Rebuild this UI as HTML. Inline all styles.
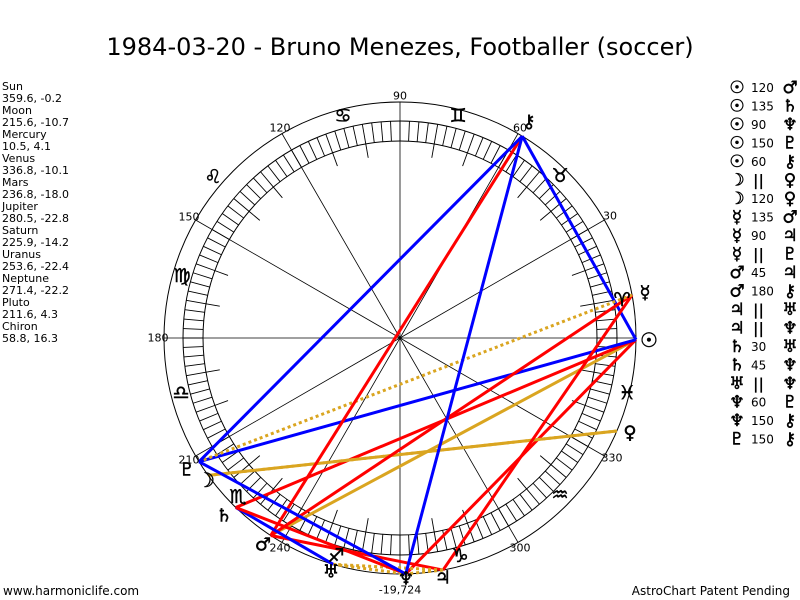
<!DOCTYPE html>
<html><head><meta charset="utf-8"><style>
html,body{margin:0;padding:0;background:#fff;}
svg{display:block;}
.t{font-family:"DejaVu Sans","Liberation Sans",sans-serif;}
</style></head><body>
<svg width="800" height="600" viewBox="0 0 800 600" xmlns="http://www.w3.org/2000/svg">
<rect width="800" height="600" fill="#fff"/>
<text class="t" x="400" y="55" font-size="24" text-anchor="middle" fill="#000">1984-03-20 - Bruno Menezes, Footballer (soccer)</text>
<g class="t" font-size="11" fill="#000">
<text x="2" y="90">Sun</text><text x="2" y="102">359.6, -0.2</text>
<text x="2" y="114">Moon</text><text x="2" y="126">215.6, -10.7</text>
<text x="2" y="138">Mercury</text><text x="2" y="150">10.5, 4.1</text>
<text x="2" y="162">Venus</text><text x="2" y="174">336.8, -10.1</text>
<text x="2" y="186">Mars</text><text x="2" y="198">236.8, -18.0</text>
<text x="2" y="210">Jupiter</text><text x="2" y="222">280.5, -22.8</text>
<text x="2" y="234">Saturn</text><text x="2" y="246">225.9, -14.2</text>
<text x="2" y="258">Uranus</text><text x="2" y="270">253.6, -22.4</text>
<text x="2" y="282">Neptune</text><text x="2" y="294">271.4, -22.2</text>
<text x="2" y="306">Pluto</text><text x="2" y="318">211.6, 4.3</text>
<text x="2" y="330">Chiron</text><text x="2" y="342">58.8, 16.3</text>
</g>
<g id="chart" stroke="#000" fill="none"></g>
<g id="lines"></g>
<g id="txt" class="t"></g>
<text class="t" x="3" y="595" font-size="12">www.harmoniclife.com</text>
<text class="t" x="790" y="595" font-size="12" text-anchor="end">AstroChart Patent Pending</text>
<script>
var NS="http://www.w3.org/2000/svg",cx=400,cy=338;
function el(p,t,a,txt){var e=document.createElementNS(NS,t);for(var k in a)e.setAttribute(k,a[k]);if(txt!=null)e.textContent=txt;p.appendChild(e);return e;}
function pt(a,r){var d=a*Math.PI/180;return [cx+r*Math.cos(d),cy-r*Math.sin(d)];}
var C=document.getElementById('chart');
el(C,'circle',{cx:cx,cy:cy,r:236,'stroke-width':1});
el(C,'circle',{cx:cx,cy:cy,r:217,'stroke-width':1});
el(C,'circle',{cx:cx,cy:cy,r:197,'stroke-width':1});
for(var i=0;i<144;i++){var a=i*2.5,p=pt(a,197),q=pt(a,217);el(C,'line',{x1:p[0],y1:p[1],x2:q[0],y2:q[1],'stroke-width':0.9});}
for(var a=0;a<360;a+=10){if(a%30){var p=pt(a,183),q=pt(a,197);el(C,'line',{x1:p[0],y1:p[1],x2:q[0],y2:q[1],'stroke-width':0.9});}}
for(var a=0;a<360;a+=30){var q=pt(a,236);el(C,'line',{x1:cx,y1:cy,x2:q[0],y2:q[1],'stroke-width':0.8});}
var P={su:359.6,mo:215.6,me:10.5,ve:336.8,ma:236.8,ju:280.5,sa:225.9,ur:253.6,ne:271.4,pl:211.6,ch:58.8};
var B='#0000ff',R='#ff0000',O='#daa520';
var asp=[['su','ma',O,0],['su','sa',R,0],['su','ne',R,0],['su','pl',B,0],['su','ch',B,0],
['mo','ve',O,1],['mo','ve',O,0],['me','ma',R,0],['me','ju',R,0],['me','pl',O,1],['ma','ju',R,0],['ma','ch',R,0],
['ju','ur',O,1],['ju','ne',O,1],['sa','ur',B,0],['sa','ne',R,0],['ur','ne',O,1],['ne','pl',B,0],['ne','ch',B,0],['pl','ch',B,0]];
var L=document.getElementById('lines');
asp.forEach(function(s){var p=pt(P[s[0]],236),q=pt(P[s[1]],236);var at={x1:p[0],y1:p[1],x2:q[0],y2:q[1],stroke:s[2],'stroke-width':3};if(s[3])at['stroke-dasharray']='3,3';el(L,'line',at);});
var T=document.getElementById('txt');
function g(x,y,s,fs){el(T,'text',{x:x,y:y,'font-size':fs||18,'text-anchor':'middle','dominant-baseline':'central',fill:'#000',stroke:'#000','stroke-width':0.5},s);}
g(649,340,'☉',20);g(645,293,'☿');g(630,433,'♀');g(529,122,'⚷');g(206,480,'☽',20);g(187,470,'♇');
g(224,516,'♄');g(263,545,'♂');g(331,572,'♅');g(406,579,'♆');g(443,578,'♃');
var sg=[['♈',622,300],['♉',560,176],['♊',458,116],['♋',343,116],['♌',213,177],['♍',182,276],['♎',181,393],['♏',238,497],['♐',336,556],['♑',460,556],['♒',560,495],['♓',627,393]];
sg.forEach(function(s){g(s[1],s[2],s[0],19);});
var lb=[['90',400,96],['60',520,128],['30',610,216],['120',280,128],['150',189,217],['180',158,338],['210',189,460],['240',280,548],['300',520,548],['330',612,458],['-19,724',400,590]];
lb.forEach(function(s){el(T,'text',{x:s[1],y:s[2],'font-size':11,'text-anchor':'middle','dominant-baseline':'central',fill:'#000'},s[0]);});
var rows=[['☉','120','♂'],['☉','135','♄'],['☉','90','♆'],['☉','150','♇'],['☉','60','⚷'],['☽','||','♀'],['☽','120','♀'],['☿','135','♂'],['☿','90','♃'],['☿','||','♇'],['♂','45','♃'],['♂','180','⚷'],['♃','||','♅'],['♃','||','♆'],['♄','30','♅'],['♄','45','♆'],['♅','||','♆'],['♆','60','♇'],['♆','150','⚷'],['♇','150','⚷']];
rows.forEach(function(r,i){var y=88+i*18.5;g(737,y,r[0],17);
if(r[1]=='||')el(T,'text',{x:753,y:y,'font-size':15,'font-weight':'bold','dominant-baseline':'central'},'||');
else el(T,'text',{x:751,y:y,'font-size':12,'dominant-baseline':'central'},r[1]);
g(790,y,r[2],17);});
</script>
</svg>
</body></html>
